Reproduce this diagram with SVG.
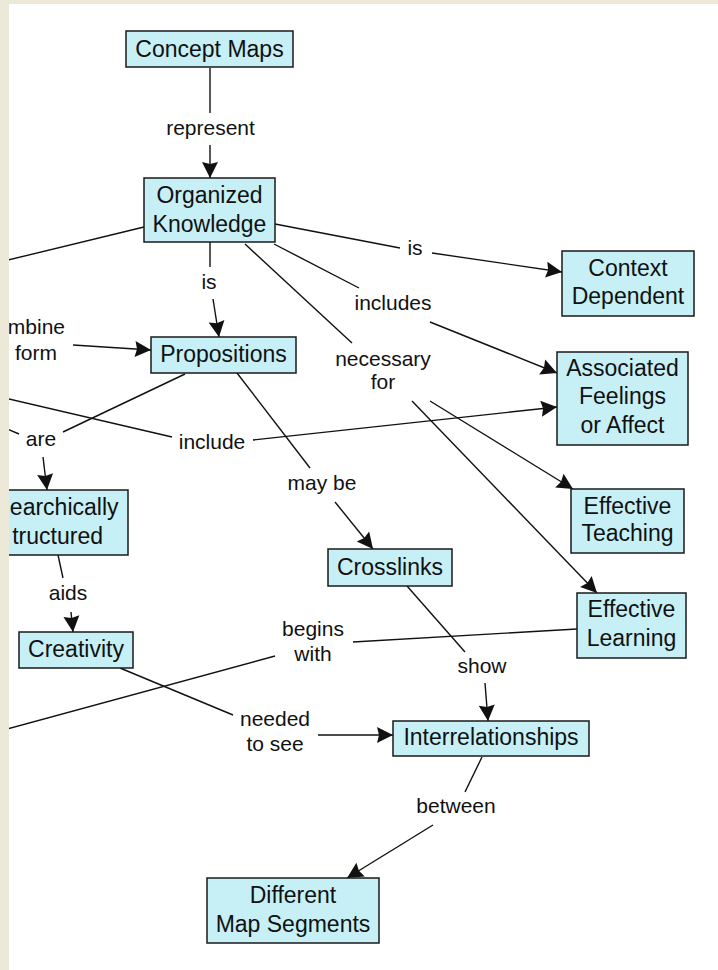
<svg xmlns="http://www.w3.org/2000/svg" width="718" height="970" viewBox="0 0 718 970">
<style>
.node rect{fill:#C6EFF6;stroke:#1a1a1a;stroke-width:1.5}
.node text{font-family:"Liberation Sans",Arial,sans-serif;font-size:23px;fill:#111;text-anchor:middle}
.lbl{font-family:"Liberation Sans",Arial,sans-serif;font-size:21px;fill:#111;text-anchor:middle}
#connectors path{fill:none;stroke:#111;stroke-width:1.4}
#connectors path.a{marker-end:url(#arr)}
</style>
<defs>
<marker id="arr" markerUnits="userSpaceOnUse" markerWidth="17" markerHeight="16" refX="16" refY="8" orient="auto" overflow="visible">
<path d="M0,0 L16,8 L0,16 L2,8 z" fill="#111"/>
</marker>
<clipPath id="area"><rect x="9" y="4" width="709" height="966"/></clipPath>
</defs>
<rect x="0" y="0" width="718" height="970" fill="#ECE9D8"/>
<rect x="9" y="4" width="709" height="966" fill="#FFFFFF"/>
<g clip-path="url(#area)">
<g id="connectors">
<path d="M210,68 L210,113"/>
<path class="a" d="M210,145 L210,178"/>
<path d="M144,227 L0,262"/>
<path d="M210,242 L210,267"/>
<path class="a" d="M213,299 L219,337"/>
<path d="M275,224 L400,248"/>
<path class="a" d="M432,253 L562,272"/>
<path d="M274,244 L359,288"/>
<path class="a" d="M430,322 L557,373"/>
<path d="M245,244 L352,343"/>
<path class="a" d="M430,401 L573,489"/>
<path class="a" d="M412,401 L597,593"/>
<path class="a" d="M73,345 L151,350"/>
<path d="M185,374 L63,432"/>
<path d="M0,426 L19,434"/>
<path class="a" d="M43,457 L47,490"/>
<path d="M0,397 L172,437"/>
<path class="a" d="M253,440 L557,407"/>
<path d="M237,373 L310,468"/>
<path class="a" d="M335,502 L373,549"/>
<path d="M58,555 L63,578"/>
<path class="a" d="M71,612 L73,632"/>
<path d="M120,668 L233,715"/>
<path class="a" d="M318,735 L393,735"/>
<path d="M0,731 L275,656"/>
<path d="M353,642 L577,629"/>
<path d="M407,586 L465,652"/>
<path class="a" d="M485,683 L488,721"/>
<path d="M482,757 L465,792"/>
<path class="a" d="M433,825 L347,878"/>
</g>
<g id="labels">
<text class="lbl" x="210.5" y="135">represent</text>
<text class="lbl" x="209" y="289">is</text>
<text class="lbl" x="415" y="255">is</text>
<text class="lbl" x="393" y="310">includes</text>
<text class="lbl" x="383" y="366">necessary</text>
<text class="lbl" x="383" y="389">for</text>
<text class="lbl" x="65" y="334" style="text-anchor:end">mbine</text>
<text class="lbl" x="36" y="360">form</text>
<text class="lbl" x="41" y="446">are</text>
<text class="lbl" x="212" y="449">include</text>
<text class="lbl" x="322" y="490">may be</text>
<text class="lbl" x="68" y="600">aids</text>
<text class="lbl" x="313" y="636">begins</text>
<text class="lbl" x="313" y="661">with</text>
<text class="lbl" x="275" y="726">needed</text>
<text class="lbl" x="275" y="751">to see</text>
<text class="lbl" x="482" y="673">show</text>
<text class="lbl" x="456" y="813">between</text>
</g>
<g id="concept-maps" class="node"><rect x="126" y="31" width="167" height="36"/><text x="209.5" y="57">Concept Maps</text></g>
<g id="organized-knowledge" class="node"><rect x="144" y="178" width="131" height="64"/><text x="209.5" y="203">Organized</text><text x="209.5" y="231.5">Knowledge</text></g>
<g id="context-dependent" class="node"><rect x="562" y="251" width="132" height="65"/><text x="628" y="276">Context</text><text x="628" y="303.5">Dependent</text></g>
<g id="associated-feelings" class="node"><rect x="557" y="352" width="131" height="93"/><text x="622.5" y="376">Associated</text><text x="622.5" y="404">Feelings</text><text x="622.5" y="432.5">or Affect</text></g>
<g id="propositions" class="node"><rect x="151" y="337" width="145" height="36"/><text x="223.5" y="362">Propositions</text></g>
<g id="hierarchically-structured" class="node"><rect x="-40" y="490" width="168" height="65"/><text x="118.5" y="515" style="text-anchor:end">earchically</text><text x="103" y="543.5" style="text-anchor:end">tructured</text></g>
<g id="effective-teaching" class="node"><rect x="571" y="489" width="113" height="64"/><text x="627.5" y="513.5">Effective</text><text x="627.5" y="541">Teaching</text></g>
<g id="crosslinks" class="node"><rect x="328" y="549" width="124" height="37"/><text x="390" y="574.5">Crosslinks</text></g>
<g id="effective-learning" class="node"><rect x="577" y="593" width="109" height="65"/><text x="631.5" y="617">Effective</text><text x="631.5" y="646">Learning</text></g>
<g id="creativity" class="node"><rect x="19" y="632" width="114" height="36"/><text x="76" y="657">Creativity</text></g>
<g id="interrelationships" class="node"><rect x="393" y="721" width="196" height="35"/><text x="491" y="744.5">Interrelationships</text></g>
<g id="different-map-segments" class="node"><rect x="207" y="878" width="172" height="65"/><text x="293" y="903">Different</text><text x="293" y="932">Map Segments</text></g>
</g>
</svg>
